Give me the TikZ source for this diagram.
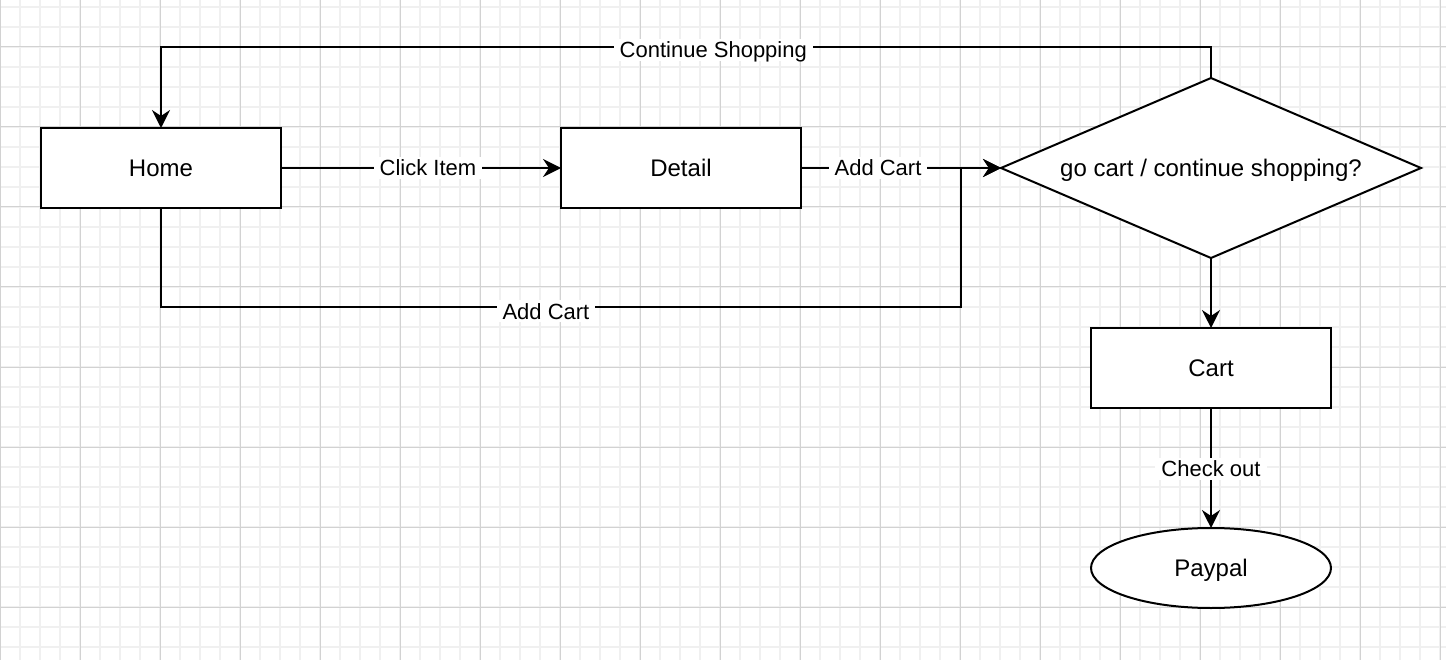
\documentclass[tikz,border=0pt]{standalone}
\usepackage{fontspec}
\setmainfont{Liberation Sans}
\usetikzlibrary{arrows.meta,shapes.geometric}
\definecolor{minorgrid}{RGB}{240,240,240}
\definecolor{majorgrid}{RGB}{210,210,210}
\tikzset{
  box/.style={draw, line width=2pt, fill=white, minimum width=240pt, minimum height=80pt,
    inner sep=0pt, outer sep=0pt, font=\fontsize{24}{28}\selectfont, text height=17pt, text depth=0pt},
  decision/.style={draw, diamond, line width=2pt, fill=white, minimum width=420pt, minimum height=180pt,
    inner sep=0pt, outer sep=0pt},
  dtext/.style={inner sep=0pt, font=\fontsize{24}{28}\selectfont, text height=17pt, text depth=0pt},
  terminal/.style={draw, ellipse, line width=2pt, fill=white, minimum width=240pt, minimum height=80pt,
    inner sep=0pt, outer sep=0pt, font=\fontsize{24}{28}\selectfont, text height=17pt, text depth=0pt},
  conn/.style={line width=2pt, -{Stealth[length=18pt,width=18pt,inset=6pt]}},
  lbl/.style={fill=white, inner xsep=6pt, inner ysep=3pt, font=\fontsize{22}{26}\selectfont,
    text height=16pt, text depth=0pt},
}
\begin{document}
\begin{tikzpicture}[x=1pt,y=-1pt]
\useasboundingbox (0,0) rectangle (1446,660);
\fill[white] (0,0) rectangle (1446,660);
% grid
\foreach \gx in {0,20,...,1440} \draw[minorgrid, line width=1.2pt] (\gx,0) -- (\gx,660);
\foreach \gy in {7,27,...,647} \draw[minorgrid, line width=1.2pt] (0,\gy) -- (1446,\gy);
\foreach \gx in {0,80,...,1440} \draw[majorgrid, line width=1pt] (\gx,0) -- (\gx,660);
\foreach \gy in {47,127,...,607} \draw[majorgrid, line width=1pt] (0,\gy) -- (1446,\gy);
% nodes
\node[box] (home) at (161,168) {Home};
\node[box] (detail) at (681,168) {Detail};
\node[decision] (dia) at (1211,168) {};
\node[dtext] (diatext) at (dia) {go cart / continue shopping?};
\node[box] (cart) at (1211,368) {Cart};
\node[terminal] (paypal) at (1211,568) {Paypal};
% helper coordinates
\coordinate (j1) at (961,307);
\coordinate (j2) at (161,47);
% connectors
\draw[conn] (home) -- node[lbl, pos=0.525] {Click Item} (detail);
\draw[conn] (detail) -- node[lbl, pos=0.385] {Add Cart} (dia);
\draw[conn] (home.south) |- node[lbl, pos=0.7406, yshift=-4.5pt] {Add Cart} (j1) |- (dia.west);
\draw[conn] (dia.north) |- node[lbl, pos=0.737, yshift=-3pt] {Continue Shopping} (j2) -- (home.north);
\draw[conn] (dia) -- (cart);
\draw[conn] (cart) -- node[lbl, yshift=-0.5pt] {Check out} (paypal);
\end{tikzpicture}
\end{document}
